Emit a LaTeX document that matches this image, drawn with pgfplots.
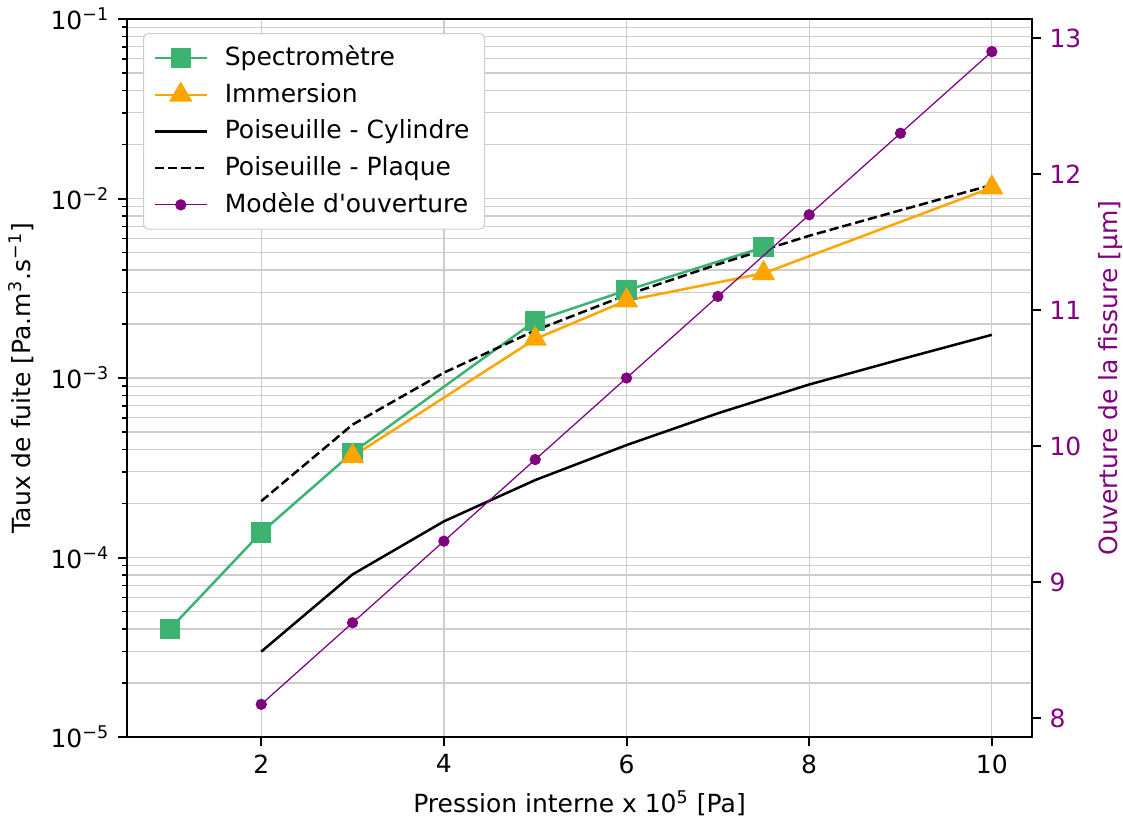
\documentclass[border=0pt]{standalone}
\usepackage{fontspec}
\setmainfont{DejaVu Sans}
\usepackage{pgfplots}
\pgfplotsset{compat=1.18}
\definecolor{cgreen}{RGB}{60,179,113}
\definecolor{corange}{RGB}{255,165,0}
\definecolor{cpurple}{RGB}{128,0,128}
\definecolor{cgrid}{RGB}{205,205,205}
\definecolor{clegend}{RGB}{204,204,204}
\begin{document}
\begin{tikzpicture}
\pgfplotsset{
  every axis/.append style={
    font=\fontsize{10}{12}\selectfont,
    scale only axis, width=362pt, height=287.2pt,
    xmin=0.53, xmax=10.44,
    tick align=outside, major tick length=3.5pt, minor tick length=2pt,
    /pgf/number format/assume math mode=true,
    axis line style={line width=0.9pt},
    every tick/.style={black, line width=0.8pt},
    every minor tick/.style={black, line width=0.6pt},
  },
}
\begin{axis}[
  name=main,
  ymode=log, ymin=1e-5, ymax=1e-1,
  xtick={2,4,6,8,10},
  ytick={1e-5,1e-4,1e-3,1e-2,1e-1},
  yticklabels={10\textsuperscript{−5},10\textsuperscript{−4},10\textsuperscript{−3},10\textsuperscript{−2},10\textsuperscript{−1}},
  minor ytick={2e-5,3e-5,4e-5,5e-5,6e-5,7e-5,8e-5,9e-5,
               2e-4,3e-4,4e-4,5e-4,6e-4,7e-4,8e-4,9e-4,
               2e-3,3e-3,4e-3,5e-3,6e-3,7e-3,8e-3,9e-3,
               2e-2,3e-2,4e-2,5e-2,6e-2,7e-2,8e-2,9e-2},
  xmajorgrids, ymajorgrids, yminorgrids,
  major grid style={cgrid, line width=0.5pt},
  minor grid style={cgrid, line width=0.5pt},
  xtick pos=bottom, ytick pos=left,
  xlabel={Pression interne x 10\textsuperscript{5} [Pa]},
  ylabel={Taux de fuite [Pa.m\textsuperscript{3}.s\textsuperscript{−1}]},
  legend cell align=left,
  legend image code/.code={\draw[mark repeat=2,mark phase=2,#1] plot coordinates {(0pt,0pt) (10.4pt,0pt) (20.8pt,0pt)}; \path (25.5pt,0pt);},
  legend style={at={(0.0177,0.9805)}, anchor=north west, draw=clegend, rounded corners=2pt,
    fill=white, row sep=1.5pt,
    inner xsep=4pt, inner ysep=3pt, font=\fontsize{10}{12}\selectfont},
]
\addplot[cgreen, line width=1pt, mark=square*, mark size=3.55pt, mark options={solid, fill=cgreen}]
  coordinates {(1,4.0e-5) (2,1.38e-4) (3,3.84e-4) (5,2.08e-3) (6,3.08e-3) (7.5,5.35e-3)};
\addlegendentry{Spectromètre}
\addplot[corange, line width=1pt, mark=triangle*, mark size=4.4pt, mark options={solid, fill=corange}]
  coordinates {(3,3.66e-4) (5,1.65e-3) (6,2.70e-3) (7.5,3.83e-3) (10,1.15e-2)};
\addlegendentry{Immersion}
\addplot[black, line width=1pt]
  coordinates {(2,2.99e-5) (3,8.05e-5) (4,1.59e-4) (5,2.70e-4) (6,4.23e-4) (7,6.36e-4) (8,9.2e-4) (9,1.27e-3) (10,1.74e-3)};
\addlegendentry{Poiseuille - Cylindre}
\addplot[black, line width=1pt, dash pattern=on 3.7pt off 1.6pt]
  coordinates {(2,2.06e-4) (3,5.5e-4) (4,1.07e-3) (5,1.84e-3) (6,2.9e-3) (7,4.3e-3) (8,6.2e-3) (9,8.6e-3) (10,1.19e-2)};
\addlegendentry{Poiseuille - Plaque}
\addlegendimage{cpurple, line width=0.5pt, mark=*, mark size=2pt, mark options={solid, fill=cpurple}}
\addlegendentry{Modèle d\textquotesingle ouverture}
\end{axis}
\begin{axis}[
  axis y line*=right, axis x line=none,
  ymin=7.86, ymax=13.14,
  ytick={8,9,10,11,12,13},
  yticklabel style={text=cpurple},
  ylabel={Ouverture de la fissure [µm]},
  ylabel style={text=cpurple},
]
\addplot[cpurple, line width=0.5pt, mark=*, mark size=2pt, mark options={solid, fill=cpurple}]
  coordinates {(2,8.1) (3,8.7) (4,9.3) (5,9.9) (6,10.5) (7,11.1) (8,11.7) (9,12.3) (10,12.9)};
\end{axis}
\pgfresetboundingbox
\path ([shift={(-50.8pt,-32.8pt)}]main.south west) rectangle ([shift={(36.4pt,7.6pt)}]main.north east);
\end{tikzpicture}
\end{document}
